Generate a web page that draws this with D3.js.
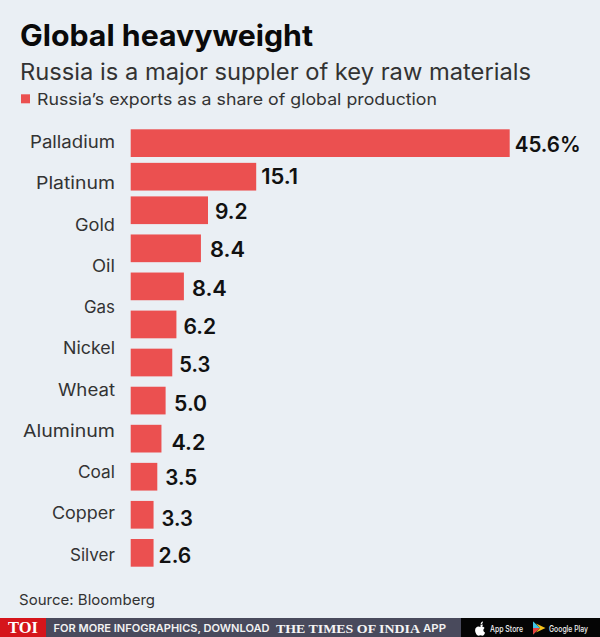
<!DOCTYPE html>
<html>
<head>
<meta charset="utf-8">
<script src="https://cdn.jsdelivr.net/npm/d3@7/dist/d3.min.js"></script>
<style>
html,body{margin:0;padding:0;background:#eaeff4;overflow:hidden}
svg{display:block}
</style>
</head>
<body>
<svg id="c" width="600" height="637"></svg>
<script>
// Data
const categories = ["Palladium","Platinum","Gold","Oil","Gas","Nickel","Wheat","Aluminum","Coal","Copper","Silver"];
const valueLabels = ["45.6%","15.1","9.2","8.4","8.4","6.2","5.3","5.0","4.2","3.5","3.3","2.6"];
// bar lengths as actually drawn in the picture, in the same units as the labels
const barValues = [45.6,15.1,9.3,8.45,6.4,5.5,5.0,4.2,3.7,3.2,2.75,2.75];

// text fitting, kept apart from the data
const categoryWidths = [85,79,40,23,31,52,57,92,37,63,45];
const valueWidths = [66,37,32.7,35,35,32.7,31,33,34,32,31.3,32.7];
const labelGap = [5,5,7,9,8,7,7,8.5,10,8,8,5];
const labelDrop = [22.4,21.6,22.6,22.3,23,23.6,23.7,24.7,25,22,25,24.3];

const INK="#111", GREY="#333", RED="#eb5050", FONT="Inter, sans-serif";
const svg=d3.select("#c");
svg.append("rect").attr("width",600).attr("height",637).attr("fill","#eaeff4");

function txt(str,x,y,size,weight,fill,width,family,anchor){
  const t=svg.append("text").attr("x",x).attr("y",y).attr("font-size",size)
    .attr("font-weight",weight).attr("fill",fill).attr("font-family",family||FONT)
    .attr("text-anchor",anchor||"start").text(str);
  if(width){t.attr("textLength",width).attr("lengthAdjust","spacingAndGlyphs");}
  return t;
}
txt("Global heavyweight",20,46,29.5,700,"#0a0a0a",293);
txt("Russia is a major suppler of key raw materials",20,79.5,22.5,400,GREY,511);
svg.append("rect").attr("x",21).attr("y",94.3).attr("width",9).attr("height",9).attr("fill",RED);
txt("Russia\u2019s exports as a share of global production",37,105,16.5,400,GREY,400);
txt("Source: Bloomberg",19,605,14.7,400,GREY,136);

// Scales
const x=d3.scaleLinear().domain([0,45.6]).range([130.7,509.7]);
const yBar=d3.scaleLinear().domain([0,2,11]).range([129.3,196.4,539]);
const BAR_H=27.7;

svg.append("g").selectAll("rect").data(barValues).join("rect")
  .attr("x",x(0)).attr("y",(d,i)=>yBar(i))
  .attr("width",d=>x(d)-x(0)).attr("height",BAR_H).attr("fill",RED);

// Value labels
svg.append("g").selectAll("text").data(valueLabels).join("text")
  .attr("x",(d,i)=>x(barValues[i])+labelGap[i])
  .attr("y",(d,i)=>yBar(i)+labelDrop[i])
  .attr("font-size",21).attr("font-weight",600).attr("font-family",FONT).attr("fill",INK)
  .attr("textLength",(d,i)=>valueWidths[i]).attr("lengthAdjust","spacingAndGlyphs")
  .text(d=>d);

// Category axis (its own spacing, as in the picture)
const yCat=d3.scalePoint().domain(categories).range([142.6,555.3]);
const axis=svg.append("g").attr("transform","translate(131,0)")
  .call(d3.axisLeft(yCat).tickSize(0).tickPadding(16).offset(0));
axis.select(".domain").remove();
axis.selectAll("text").attr("font-size",17).attr("font-family",FONT).attr("font-weight",400).attr("fill",GREY)
  .attr("textLength",(d,i)=>categoryWidths[i]).attr("lengthAdjust","spacingAndGlyphs");

// Footer
const BT=618,BH=19;
svg.append("rect").attr("x",0).attr("y",BT).attr("width",461).attr("height",BH).attr("fill","#494a5c");
svg.append("rect").attr("x",0).attr("y",BT).attr("width",46).attr("height",BH).attr("fill","#d5151b");
svg.append("rect").attr("x",461).attr("y",BT).attr("width",139).attr("height",BH).attr("fill","#050505");
const SERIF="'Liberation Serif', serif";
txt("TOI",8,632.5,17,700,"#fff",30,SERIF);
txt("FOR MORE INFOGRAPHICS, DOWNLOAD",53.5,632,10.5,600,"#f2f2f2",216);
txt("THE TIMES OF INDIA",276,632.5,13.5,700,"#f5f5f5",144,SERIF);
txt("APP",423,632,10.5,600,"#f2f2f2",23);
svg.append("path").attr("d","M480.5 625c1-.1 2.300-1 2.300-.1-.1.500-.1 1-.7 1.500 1 .1 2 .7 2.500 1.500-1.900 1.300-1.500 3.700.5 4.600-.5 1.500-1.500 3.200-2.600 3.200-.8 0-1.200-.5-2-.5s-1.300.5-2 .5c-1.500 0-3.400-3-3.400-5.500 0-2.700 2-3.800 3.200-3.800.8 0 1.600.5 2.200.5z M480.600 624.600c0-1.400 1-2.800 2.300-3 .2 1.500-1 3-2.300 3z").attr("fill","#fff");
txt("App Store",490,631.5,9,500,"#f0f0f0",33);
svg.append("path").attr("d","M533 621.500l7 6.500-7 6.500z").attr("fill","#33b36b");
svg.append("path").attr("d","M533 621.500v6.500h7z").attr("fill","#3fc4e8");
svg.append("path").attr("d","M533 634.500v-6.500h7z").attr("fill","#e8403f");
svg.append("path").attr("d","M536 623.500l9.500 4.500-5.500 0z").attr("fill","#f6c21c");
svg.append("path").attr("d","M536 632.500l9.500-4.500-5.500 0z").attr("fill","#f6c21c");
txt("Google Play",549,631.5,8.5,500,"#f0f0f0",39);
</script>
</body>
</html>
